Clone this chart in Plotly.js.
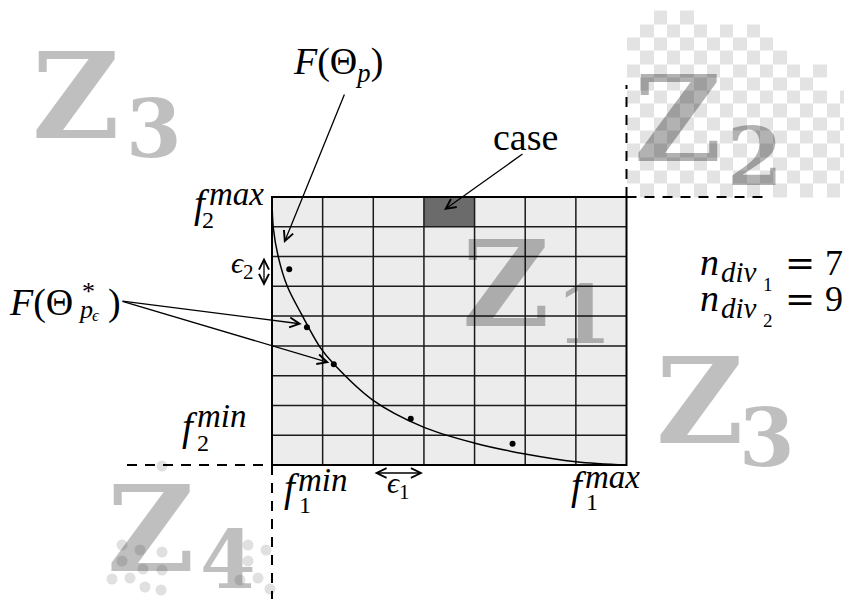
<!DOCTYPE html>
<html><head><meta charset="utf-8">
<script src="https://cdn.plot.ly/plotly-3.0.1.min.js"></script>
<style>html,body{margin:0;padding:0;background:#fff}</style>
</head><body><div id="chart" style="width:844px;height:599px"></div>
<script>
// ---- data ----
const nDiv1 = 7;
const nDiv2 = 9;
const caseCell = [3, 8];                 // column, row of the highlighted case
const frontF1 = [0, 0.026, 0.124, 0.30, 0.59, 0.95, 1.22, 1.99, 2.98, 3.99, 5.0, 6.0, 7.0];
const frontF2 = [9, 7.96, 6.99, 6.01, 5.04, 3.95, 3.39, 2.18, 1.28, 0.74, 0.37, 0.11, 0];
const solF1 = [0.34, 0.69, 1.22, 2.74, 4.75];
const solF2 = [6.57, 4.63, 3.38, 1.55, 0.71];
const zoneNames = ['Z', 'Z', 'Z', 'Z', 'Z'];
const zoneIdx = ['3', '2', '1', '3', '4'];
const divIdx = ['1', '2'];
const divVals = [String(nDiv1), String(nDiv2)];

// ---- layout geometry ----
const W = 844, H = 599;
const GX0 = 272, GX1 = 626.5, GY0 = 465, GY1 = 197;
const ux = (GX1 - GX0) / nDiv1, uy = (GY0 - GY1) / nDiv2;
const dx = p => (p - GX0) / ux;
const dy = p => (GY0 - p) / uy;
const P = x => x / W;
const Q = y => 1 - y / H;
const SERIF = 'Liberation Serif, Times New Roman, serif';

const shapes = [];
const annotations = [];

// grid
shapes.push({type:'rect', xref:'x', yref:'y', x0:0, x1:nDiv1, y0:0, y1:nDiv2, fillcolor:'#ececec', line:{width:0}, layer:'below'});
shapes.push({type:'rect', xref:'x', yref:'y', x0:caseCell[0], x1:caseCell[0]+1, y0:caseCell[1], y1:caseCell[1]+1, fillcolor:'#6b6b6b', line:{width:0}, layer:'below'});
for (let i = 1; i < nDiv1; i++) shapes.push({type:'line', xref:'x', yref:'y', x0:i, x1:i, y0:0, y1:nDiv2, line:{color:'#1a1a1a', width:1.5}, layer:'below'});
for (let j = 1; j < nDiv2; j++) shapes.push({type:'line', xref:'x', yref:'y', x0:0, x1:nDiv1, y0:j, y1:j, line:{color:'#1a1a1a', width:1.5}, layer:'below'});
shapes.push({type:'rect', xref:'x', yref:'y', x0:0, x1:nDiv1, y0:0, y1:nDiv2, line:{color:'#000', width:2}, layer:'below'});

// dashed zone borders
const dash = {color:'#000', width:2, dash:'10px,8px'};
shapes.push({type:'line', xref:'x', yref:'y', x0:nDiv1, x1:nDiv1, y0:nDiv2, y1:dy(85), line:dash});
shapes.push({type:'line', xref:'x', yref:'y', x0:nDiv1, x1:dx(770), y0:nDiv2, y1:nDiv2, line:dash});
shapes.push({type:'line', xref:'x', yref:'y', x0:dx(127), x1:0, y0:0, y1:0, line:dash});
shapes.push({type:'line', xref:'x', yref:'y', x0:0, x1:0, y0:0, y1:dy(599), line:dash});

// decorative dot texture near Z4
const dotTex = [[122,545],[140,550],[162,552],[122,561],[143,569],[162,570],[112,579],[130,578],[145,587],[161,590],[248,545],[248,561],[266,550],[258,578],[240,580],[270,589],[162,466]];
dotTex.forEach(([cx, cy]) => shapes.push({type:'circle', xref:'paper', yref:'paper', x0:P(cx-5.5), x1:P(cx+5.5), y0:Q(cy+5.5), y1:Q(cy-5.5), fillcolor:'#e0e0e0', line:{width:0}, layer:'below'}));

// checker texture behind Z2
const cs = 13.3;
const xe = [], ye = [];
for (let k = 0; k <= 17; k++) xe.push(dx(Math.min(627 + k * cs, 844)));
for (let k = 0; k <= 15; k++) ye.push(dy(197 - k * cs));
const topAt = x => x < 660 ? 18 : x < 687 ? 8 : x < 700 ? 20 : x < 777 ? 23 : x < 783 ? 33 : x < 820 ? 60 : 97;
const zc = [];
for (let r = 0; r < 15; r++) {
  const row = [];
  const ycen = 197 - (r + 0.5) * cs;
  for (let c = 0; c < 17; c++) {
    const xcen = 627 + (c + 0.5) * cs;
    row.push(ycen > topAt(xcen) ? ((r + c) % 2) : null);
  }
  zc.push(row);
}

// text helper
function T(text, x, base, size, opt = {}) {
  const k = opt.k || 0.34;
  return {xref:'paper', yref:'paper', x:P(x), y:Q(base - k * size), xanchor:'left', yanchor:'middle',
    text, showarrow:false, borderpad:0, borderwidth:0,
    font:{family: opt.fam || SERIF, size, color: opt.color || '#000', weight: opt.weight || 'normal'}};
}
function A(tx, ty, hx, hy, both) {
  return {xref:'paper', yref:'paper', x:P(hx), y:Q(hy), ax:tx - hx, ay:ty - hy, text:'', showarrow:true,
    arrowhead:5, arrowsize:1.5, arrowwidth:1.3, arrowcolor:'#000', standoff:0, startstandoff:0,
    arrowside: both ? 'end+start' : 'end', startarrowhead:5, startarrowsize:1.5};
}

// zone labels
const zf = (c) => ({fam:'DejaVu Serif', weight:'bold', color:c, k:0.346});
const zoneAt = [[32,137,126,157,'rgba(0,0,0,0.25)'],[634,160,727,185,'rgba(0,0,0,0.3)'],[462,325,556,343,'rgba(0,0,0,0.27)'],[656,442,739,466,'rgba(0,0,0,0.25)'],[107,570,200,588,'rgba(0,0,0,0.25)']];
zoneAt.forEach((z, i) => {
  annotations.push(T(zoneNames[i], z[0], z[1], 120, zf(z[4])));
  annotations.push(T(zoneIdx[i], z[2], z[3], 80, zf(z[4])));
});

// math labels
annotations.push(T('<i>F</i>(Θ<sub><i>p</i></sub>)', 293, 77, 38));
annotations.push(T('case', 493, 150, 38));
annotations.push(T('<i>f</i>', 194, 217, 39), T('2', 202, 228, 24), T('<i>max</i>', 209, 205, 33));
annotations.push(T('<i>f</i>', 182, 440, 39), T('2', 197, 451, 24), T('<i>min</i>', 197, 427, 33));
annotations.push(T('<i>f</i>', 284, 501, 39), T('1', 299, 513, 24), T('<i>min</i>', 298, 491, 33));
annotations.push(T('<i>f</i>', 571, 499, 39), T('1', 586, 510, 24), T('<i>max</i>', 585, 488, 33));
annotations.push(T('<i>ϵ</i><sub>2</sub>', 231, 275, 30));
annotations.push(T('<i>ϵ</i><sub>1</sub>', 387, 495, 30));
annotations.push(T('<i>F</i>(Θ', 9, 315, 38), T('*', 82, 300, 26), T('<i>p</i>', 78, 318, 26), T('<i>ϵ</i>', 92, 321, 17), T(')', 108, 315, 38));
[275, 311].forEach((b, i) => {
  annotations.push(
    T('<i>n</i>', 700, b, 38),
    T('<i>div</i>', 721, b + 7, 29),
    T(divIdx[i], 763, b + 16, 19),
    T('=', 785, b, 36, {fam:'DejaVu Serif'}),
    T(divVals[i], 825, b, 36));
});

// arrows
annotations.push(A(345, 93, 284, 243));
annotations.push(A(524, 153, 444, 210));
annotations.push(A(121, 301, 301.7, 324));
annotations.push(A(121, 301, 329.3, 362.7));
annotations.push(A(264, 256, 264, 286, true));
annotations.push(A(373, 473, 423, 473, true));

const traces = [
  {type:'heatmap', x:xe, y:ye, z:zc, zmin:0, zmax:1, colorscale:[[0,'rgba(255,255,255,0)'],[1,'#e3e3e3']], showscale:false, hoverinfo:'skip', zsmooth:false},
  {type:'scatter', mode:'lines', x:frontF1, y:frontF2, line:{color:'#000', width:1.5, shape:'spline', smoothing:1}, hoverinfo:'skip'},
  {type:'scatter', mode:'markers', x:solF1, y:solF2, marker:{color:'#000', size:6}, hoverinfo:'skip'}
];

const layout = {
  width:W, height:H, margin:{l:0, r:0, t:0, b:0}, showlegend:false,
  paper_bgcolor:'#fff', plot_bgcolor:'#fff',
  xaxis:{range:[dx(0), dx(W)], visible:false, fixedrange:true},
  yaxis:{range:[dy(H), dy(0)], visible:false, fixedrange:true},
  shapes, annotations
};
Plotly.newPlot('chart', traces, layout, {staticPlot:true, displayModeBar:false});
</script></body></html>
